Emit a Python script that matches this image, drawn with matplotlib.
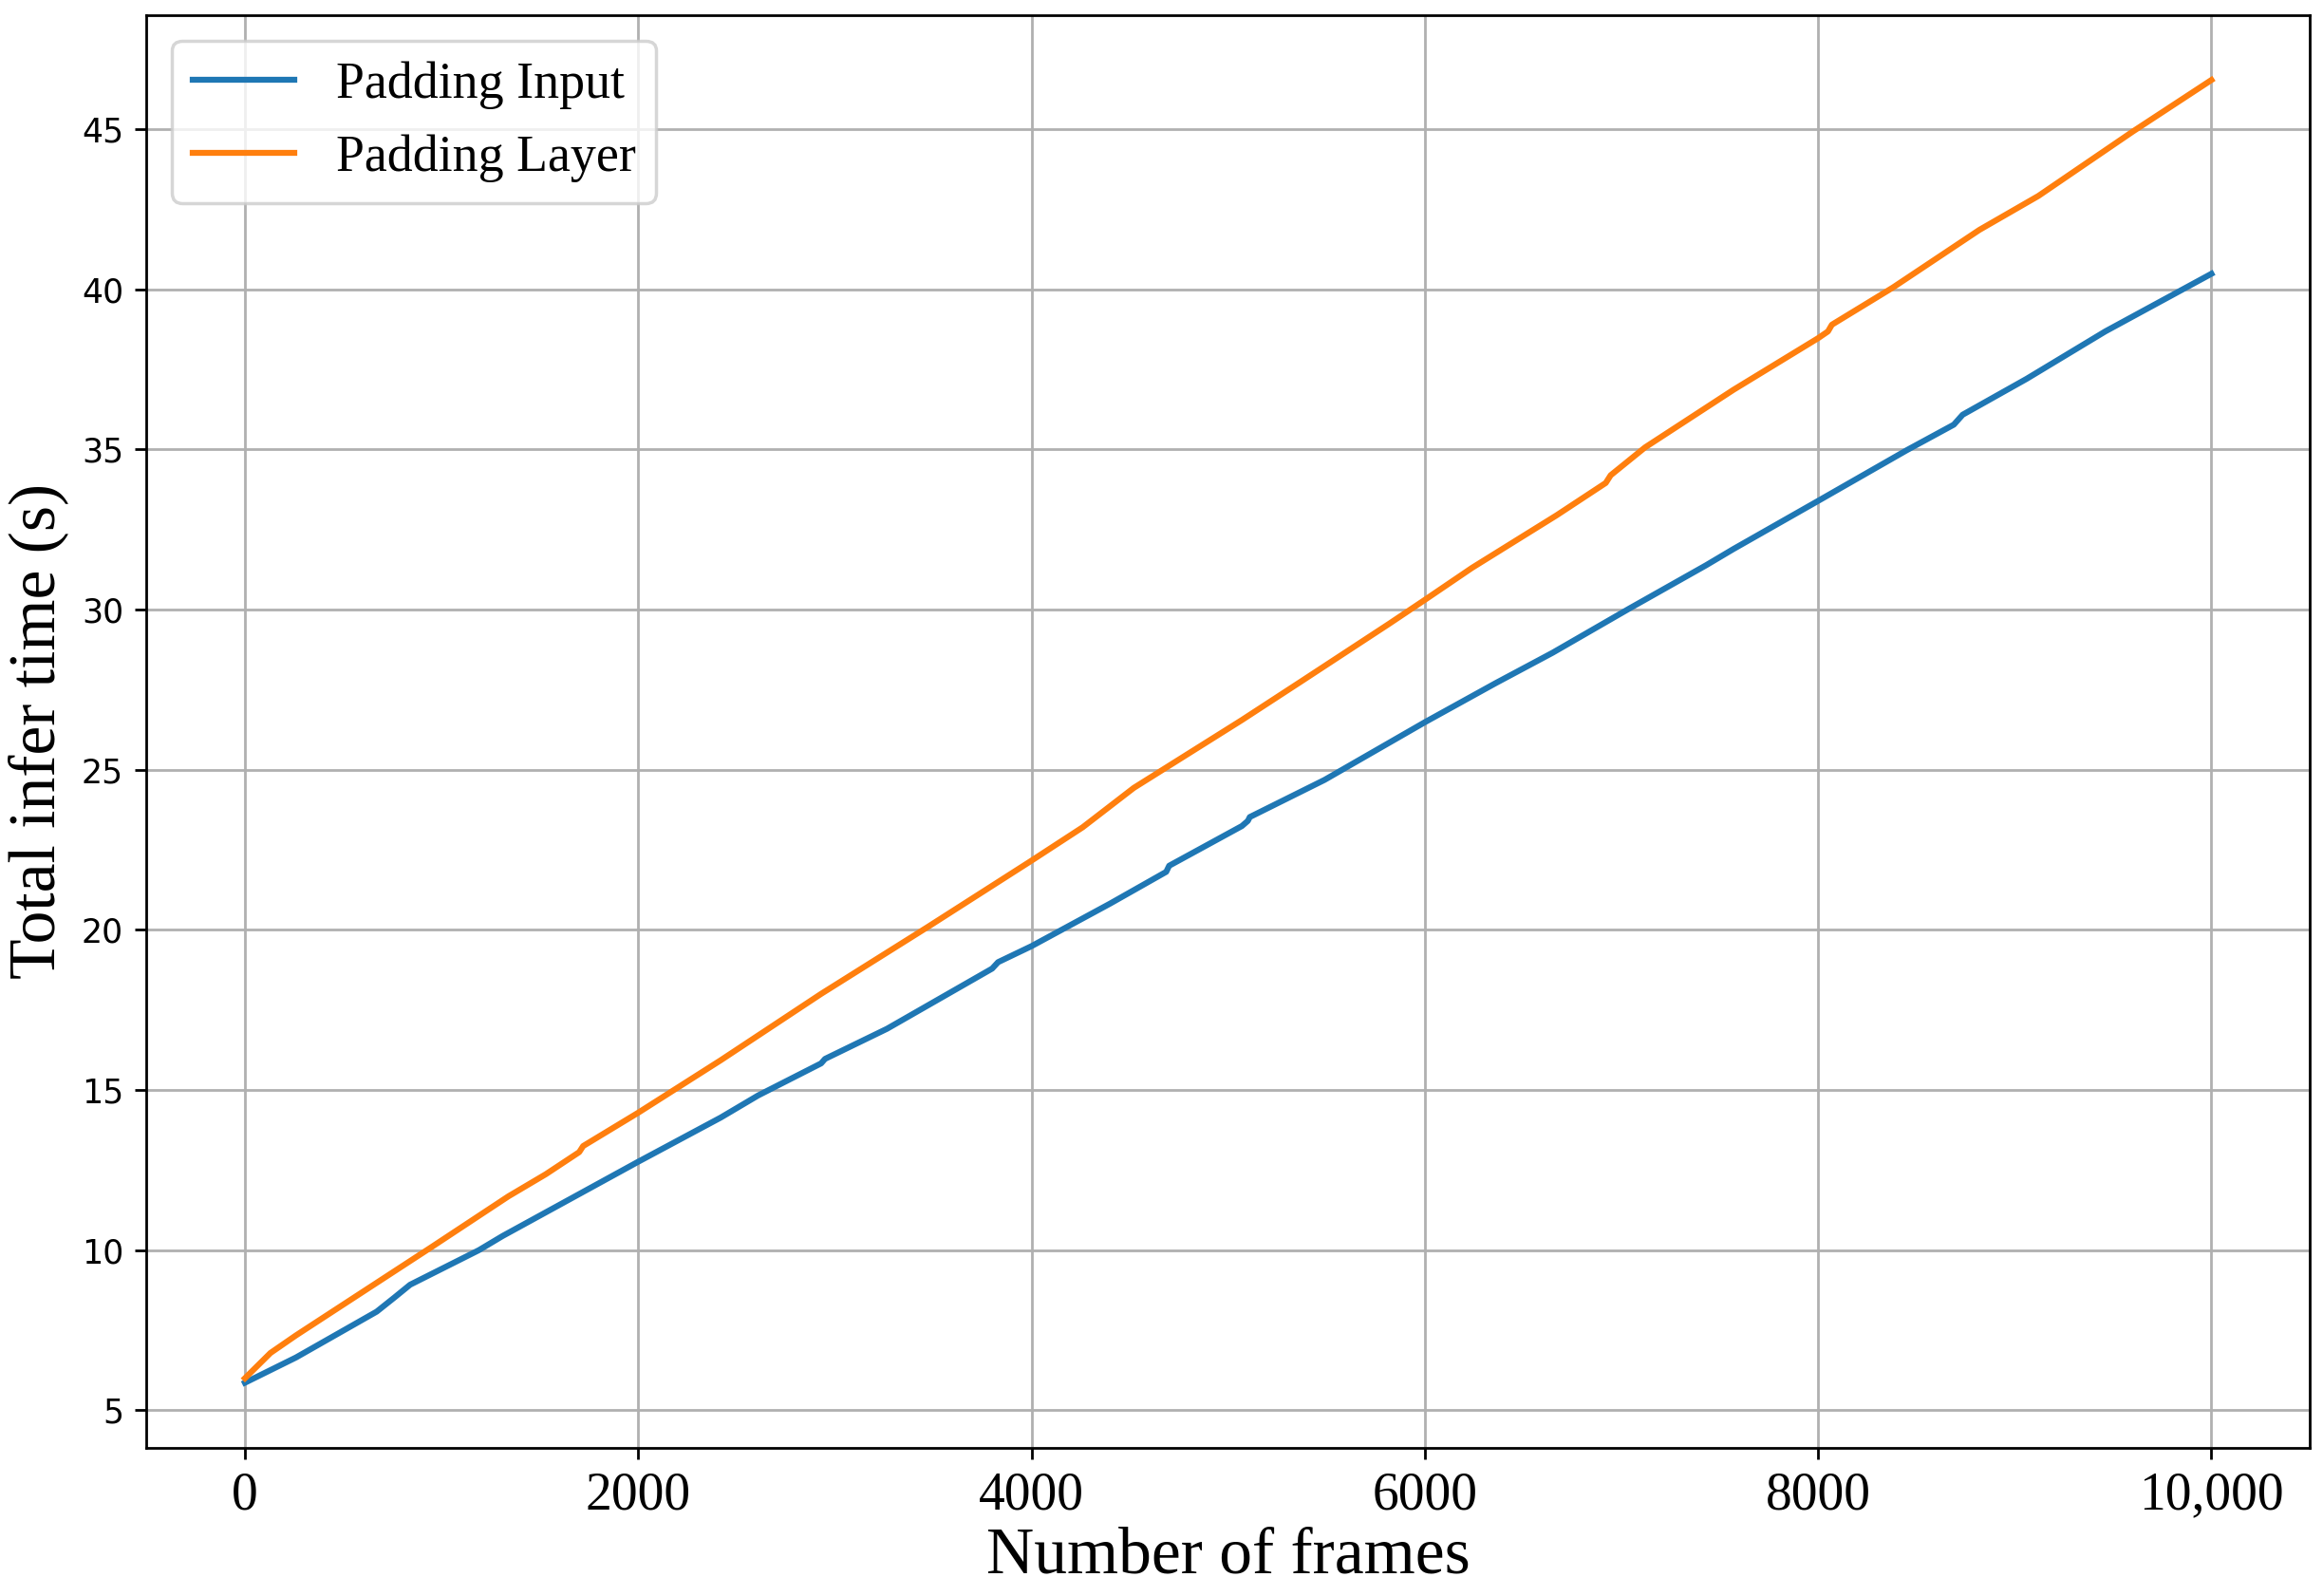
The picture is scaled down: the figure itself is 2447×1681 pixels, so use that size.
import matplotlib
matplotlib.use('Agg')
import matplotlib.pyplot as plt

# Leitura aproximada das curvas (quadro, tempo acumulado em s)
frames_input = [0, 260, 670, 760, 840, 1190, 1310, 2000, 2420, 2610, 2930, 2950,
                3265, 3800, 3830, 4000, 4400, 4685, 4700, 5070, 5100, 5110, 5490,
                6000, 6360, 6650, 7040, 7430, 7570, 8000, 8450, 8690, 8735, 9060,
                9460, 10000]
time_input = [5.86, 6.65, 8.08, 8.52, 8.92, 10.0, 10.44, 12.76, 14.14, 14.83, 15.83, 15.97,
              16.91, 18.79, 18.99, 19.49, 20.82, 21.81, 22.0, 23.24, 23.4, 23.52, 24.68,
              26.48, 27.7, 28.65, 30.03, 31.38, 31.89, 33.39, 34.97, 35.77, 36.08, 37.2,
              38.68, 40.48]

frames_layer = [0, 130, 260, 480, 950, 1340, 1530, 1700, 1720, 2000, 2420, 2930, 3470,
                4000, 4260, 4520, 5070, 5370, 5820, 6000, 6240, 6670, 6920, 6945, 7120,
                7570, 8000, 8050, 8070, 8380, 8820, 9120, 9600, 10000]
time_layer = [6.0, 6.79, 7.34, 8.22, 10.1, 11.68, 12.37, 13.06, 13.25, 14.29, 15.93, 18.0, 20.08,
              22.16, 23.2, 24.43, 26.55, 27.75, 29.56, 30.3, 31.3, 32.94, 33.95, 34.19, 35.06,
              36.86, 38.47, 38.68, 38.89, 40.05, 41.85, 42.91, 44.92, 46.53]

xtick_values = [0, 2000, 4000, 6000, 8000, 10000]
xtick_labels = ['0', '2000', '4000', '6000', '8000', '10,000']

serif = 'Liberation Serif'

fig = plt.figure(figsize=(2447 / 250, 1681 / 250), dpi=250)
ax = fig.add_axes([0.0631, 0.0928, 0.9943 - 0.0631, 0.9907 - 0.0928])

ax.plot(frames_input, time_input, label='Padding Input', color='#1f77b4', linewidth=1.8)
ax.plot(frames_layer, time_layer, label='Padding Layer', color='#ff7f0e', linewidth=1.8)

ax.set_xticks(xtick_values)
ax.set_xticklabels(xtick_labels, fontfamily=serif, fontsize=16)
ax.tick_params(axis='y', labelsize=10)

ax.set_xlabel('Number of frames', fontfamily=serif, fontsize=20, labelpad=2)
ax.set_ylabel('Total infer time (s)', fontfamily=serif, fontsize=20, labelpad=4)

ax.grid(True)
ax.legend(loc='upper left', prop={'family': serif, 'size': 15.5})

fig.savefig('out.png', dpi=250)
